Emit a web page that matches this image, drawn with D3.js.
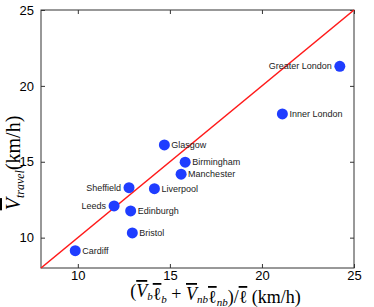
<!DOCTYPE html>
<html>
<head>
<meta charset="utf-8">
<script src="https://cdn.jsdelivr.net/npm/d3@7"></script>
<style>
  body { margin: 0; background: #fff; }
  .tick text { font-family: "Liberation Sans", Arial, sans-serif; }
</style>
</head>
<body>
<div id="chart"></div>
<script>
// city names, model speed (x) and observed travel speed (y)
var cities = ["Greater London", "Inner London", "Glasgow", "Birmingham", "Manchester",
              "Sheffield", "Liverpool", "Leeds", "Edinburgh", "Bristol", "Cardiff"];
var xVals = [24.23, 21.11, 14.70, 15.83, 15.61, 12.78, 14.16, 11.97, 12.87, 12.96, 9.86];
var yVals = [21.29, 18.15, 16.11, 14.97, 14.18, 13.29, 13.23, 12.09, 11.76, 10.31, 9.14];
// which side the name is written on
var labelSide = ["left", "right", "right", "right", "right", "left", "right", "left", "right", "right", "right"];
var xTicks = [10, 15, 20, 25];
var yTicks = [10, 15, 20, 25];

var W = 374, H = 307;
var margin = {top: 10, right: 20, bottom: 39, left: 41};
var width = W - margin.left - margin.right;
var height = H - margin.top - margin.bottom;

var svg = d3.select("#chart").append("svg")
    .attr("width", W)
    .attr("height", H)
  .append("g")
    .attr("transform", "translate(" + margin.left + "," + margin.top + ")");

var x = d3.scaleLinear().domain([8, 25]).range([0, width]);
var y = d3.scaleLinear().domain([8, 25]).range([height, 0]);

// frame
svg.append("rect")
    .attr("width", width).attr("height", height)
    .attr("fill", "none").attr("stroke", "#333").attr("stroke-width", 1);

// axes with inward ticks
function styleAxis(g) {
    g.select(".domain").remove();
    g.selectAll(".tick line").attr("stroke", "#333");
}
svg.append("g").attr("transform", "translate(0," + height + ")")
    .call(d3.axisBottom(x).tickValues(xTicks).tickSizeInner(-4).tickSizeOuter(0).tickPadding(3))
    .call(styleAxis)
    .selectAll("text").attr("font-size", 13).attr("fill", "#000");
svg.append("g")
    .call(d3.axisTop(x).tickValues(xTicks).tickSizeInner(-4).tickSizeOuter(0).tickFormat(""))
    .call(styleAxis);
svg.append("g")
    .call(d3.axisLeft(y).tickValues(yTicks).tickSizeInner(-4).tickSizeOuter(0).tickPadding(7))
    .call(styleAxis)
    .selectAll("text").attr("font-size", 13).attr("fill", "#000");
svg.append("g").attr("transform", "translate(" + width + ",0)")
    .call(d3.axisRight(y).tickValues(yTicks).tickSizeInner(-4).tickSizeOuter(0).tickFormat(""))
    .call(styleAxis);

// y = x line
svg.append("line")
    .attr("x1", x(8)).attr("y1", y(8))
    .attr("x2", x(25)).attr("y2", y(25))
    .attr("stroke", "#ff1a1a").attr("stroke-width", 1.6);

var data = cities.map(function(c, i) {
    return {name: c, x: xVals[i], y: yVals[i], side: labelSide[i]};
});

svg.selectAll("circle.pt")
    .data(data).enter().append("circle")
    .attr("class", "pt")
    .attr("cx", function(d) { return x(d.x); })
    .attr("cy", function(d) { return y(d.y); })
    .attr("r", 5.5)
    .attr("fill", "#1f3dff");

svg.selectAll("text.lbl")
    .data(data).enter().append("text")
    .attr("class", "lbl")
    .attr("x", function(d) { return x(d.x) + (d.side == "left" ? -8 : 7); })
    .attr("y", function(d) { return y(d.y); })
    .attr("dy", "0.35em")
    .attr("text-anchor", function(d) { return d.side == "left" ? "end" : "start"; })
    .attr("font-family", "'Liberation Sans', Arial, sans-serif")
    .attr("font-size", 9)
    .attr("fill", "#222")
    .text(function(d) { return d.name; });

// x axis title
var xt = svg.append("text")
    .attr("x", width / 2 + 18)
    .attr("y", height + 29)
    .attr("text-anchor", "middle")
    .attr("font-family", "'Liberation Serif', 'DejaVu Serif', serif")
    .attr("font-size", 18)
    .attr("fill", "#000");
function bar(t, s) {
    return t.append("tspan").attr("text-decoration", "overline").style("text-decoration", "overline").text(s);
}
function sub(t, s) {
    t.append("tspan").attr("font-style", "italic").attr("font-size", 11).attr("dy", 3).text(s);
    return t.append("tspan").attr("dy", -3);
}
xt.append("tspan").text("(");
bar(xt, "V").attr("font-style", "italic");
sub(xt, "b");
bar(xt, "\u2113");
sub(xt, "b").text(" + ");
bar(xt, "V").attr("font-style", "italic");
sub(xt, "nb");
bar(xt, "\u2113");
sub(xt, "nb").text(")/");
bar(xt, "\u2113");
xt.append("tspan").text(" (km/h)");

// y axis title
var yt = svg.append("text")
    .attr("transform", "translate(" + (-margin.left + 20) + "," + (height / 2 + 24) + ") rotate(-90)")
    .attr("text-anchor", "middle")
    .attr("font-family", "'Liberation Serif', 'DejaVu Serif', serif")
    .attr("font-size", 20)
    .attr("fill", "#000");
bar(yt, "V").attr("font-style", "italic");
yt.append("tspan").attr("font-style", "italic").attr("font-size", 12).attr("dy", 4).text("travel");
yt.append("tspan").attr("dy", -4).text("(km/h)");
</script>
</body>
</html>
